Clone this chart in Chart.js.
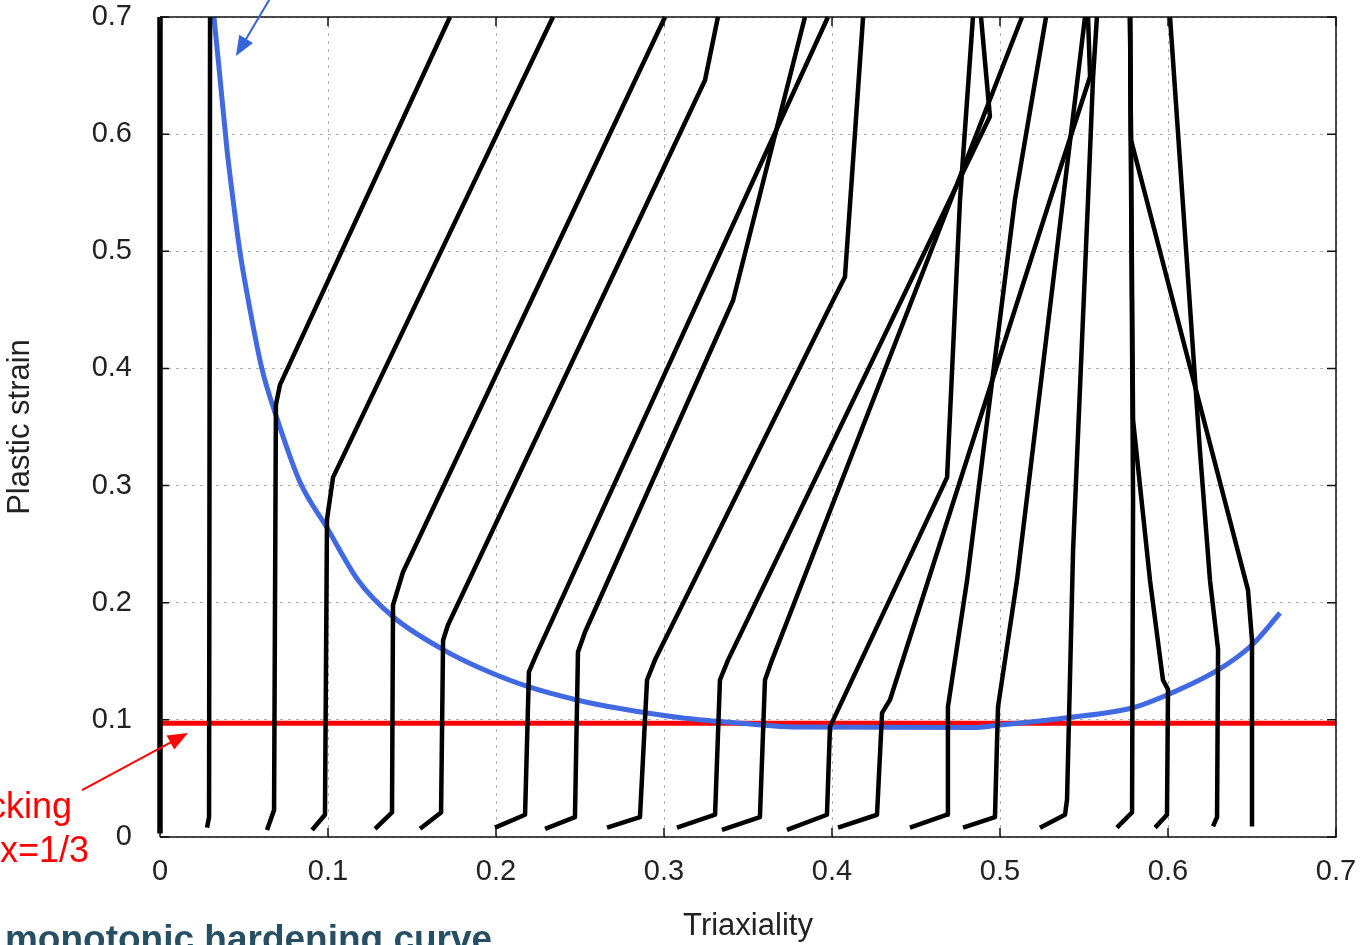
<!DOCTYPE html>
<html><head><meta charset="utf-8">
<script src="https://cdn.jsdelivr.net/npm/chart.js@4"></script>
<style>html,body{margin:0;padding:0;background:#fff;overflow:hidden}</style>
</head><body>
<canvas id="c" width="1362" height="945"></canvas>
<script>
// ---- data ----
const xTickValues = [0, 0.1, 0.2, 0.3, 0.4, 0.5, 0.6, 0.7];
const yTickValues = [0, 0.1, 0.2, 0.3, 0.4, 0.5, 0.6, 0.7];
const xTitle = 'Triaxiality';
const yTitle = 'Plastic strain';

// loading paths [triaxiality, plastic strain]
const path01 = [[0,0.003],[0,0.7]];
const path02 = [[0.028,0.008],[0.0292,0.017],[0.0298,0.7]];
const path03 = [[0.0637,0.006],[0.0679,0.023],[0.069,0.369],[0.0714,0.386],[0.1726,0.7]];
const path04 = [[0.0905,0.006],[0.0982,0.019],[0.0994,0.271],[0.103,0.307],[0.2339,0.7]];
const path05 = [[0.128,0.007],[0.1381,0.021],[0.1387,0.198],[0.1446,0.226],[0.3006,0.7]];
const path06 = [[0.1548,0.007],[0.1673,0.021],[0.1685,0.168],[0.1714,0.181],[0.3244,0.646],[0.3321,0.7]];
const path07 = [[0.1994,0.008],[0.2173,0.019],[0.2196,0.141],[0.2238,0.155],[0.3976,0.7]];
const path08 = [[0.2292,0.007],[0.247,0.017],[0.2488,0.158],[0.253,0.175],[0.3411,0.458],[0.3839,0.7]];
const path09 = [[0.2661,0.008],[0.2857,0.017],[0.2899,0.134],[0.2946,0.151],[0.4006,0.458],[0.4077,0.478],[0.4185,0.7]];
const path10 = [[0.3077,0.008],[0.3304,0.019],[0.3333,0.134],[0.3381,0.151],[0.494,0.615],[0.4887,0.7]];
const path11 = [[0.3345,0.006],[0.3571,0.017],[0.3601,0.134],[0.3643,0.151],[0.5131,0.7]];
const path12 = [[0.3732,0.006],[0.397,0.019],[0.3988,0.094],[0.4685,0.307],[0.4762,0.544],[0.4839,0.7]];
const path13 = [[0.4036,0.008],[0.4268,0.019],[0.4298,0.106],[0.4345,0.117],[0.5298,0.544],[0.5536,0.649],[0.5524,0.7]];
const path14 = [[0.4464,0.008],[0.4685,0.019],[0.469,0.111],[0.4804,0.219],[0.5089,0.544],[0.5274,0.7]];
const path15 = [[0.478,0.008],[0.497,0.017],[0.4988,0.111],[0.5101,0.219],[0.5375,0.544],[0.5506,0.7]];
const path16 = [[0.5238,0.008],[0.5387,0.019],[0.5399,0.032],[0.5435,0.245],[0.5524,0.544],[0.5554,0.649],[0.5577,0.7]];
const path17 = [[0.5696,0.008],[0.5786,0.021],[0.5792,0.288],[0.5774,0.7]];
const path18 = [[0.5923,0.008],[0.5994,0.019],[0.6,0.126],[0.597,0.134],[0.5893,0.219],[0.5792,0.356],[0.5774,0.7]];
const path19 = [[0.6268,0.009],[0.6292,0.017],[0.6298,0.16],[0.625,0.219],[0.619,0.33],[0.6012,0.7]];
const path20 = [[0.65,0.009],[0.65,0.168],[0.6476,0.211],[0.578,0.595],[0.5774,0.7]];

// monotonic hardening curve
const hardeningX = [0.0321,0.0351,0.0399,0.0435,0.0476,0.0536,0.0607,0.069,0.0833,0.0994,0.118,0.1387,0.1685,0.1905,0.2196,0.2482,0.272,0.3113,0.3512,0.3768,0.4839,0.5,0.5179,0.5387,0.5786,0.5994,0.6298,0.65,0.6667];
const hardeningY = [0.700,0.657,0.5865,0.5438,0.4994,0.4499,0.3995,0.360,0.303,0.264,0.219,0.188,0.160,0.1443,0.1281,0.117,0.1101,0.1016,0.0965,0.0939,0.0935,0.0956,0.0982,0.1016,0.1101,0.1212,0.1426,0.1639,0.1912];

// ratcheting threshold line
const thresholdX = [0, 0.7];
const thresholdY = [0.097, 0.097];

// ---- build datasets ----
const paths = [path01,path02,path03,path04,path05,path06,path07,path08,path09,path10,
               path11,path12,path13,path14,path15,path16,path17,path18,path19,path20];
const toPts = arr => arr.map(p => ({x:p[0], y:p[1]}));
const datasets = paths.map((p, i) => ({
  data: toPts(p), showLine: true, borderColor: '#000', borderWidth: i === 0 ? 5.5 : 4.5,
  pointRadius: 0, fill: false, tension: 0, order: 0, borderJoinStyle: 'round',
  clip: false
}));
datasets.push({
  data: hardeningX.map((x,i)=>({x, y: hardeningY[i]})), showLine: true,
  borderColor: '#4169e1', borderWidth: 5, pointRadius: 0,
  cubicInterpolationMode: 'monotone', order: 1
});
datasets.push({
  data: thresholdX.map((x,i)=>({x, y: thresholdY[i]})), showLine: true,
  borderColor: '#ff0000', borderWidth: 5, pointRadius: 0, order: 2
});

const FONT = '"Liberation Sans", Arial, sans-serif';

function arrow(ctx, x1, y1, x2, y2, color, w, len, half) {
  const a = Math.atan2(y2 - y1, x2 - x1);
  ctx.save();
  ctx.strokeStyle = color; ctx.fillStyle = color; ctx.lineWidth = w;
  ctx.beginPath(); ctx.moveTo(x1, y1);
  ctx.lineTo(x2 - Math.cos(a) * len * 0.8, y2 - Math.sin(a) * len * 0.8); ctx.stroke();
  ctx.beginPath(); ctx.moveTo(x2, y2);
  ctx.lineTo(x2 - Math.cos(a) * len - Math.sin(a) * half, y2 - Math.sin(a) * len + Math.cos(a) * half);
  ctx.lineTo(x2 - Math.cos(a) * len + Math.sin(a) * half, y2 - Math.sin(a) * len - Math.cos(a) * half);
  ctx.closePath(); ctx.fill();
  ctx.restore();
}

const decor = {
  id: 'decor',
  beforeDraw(chart) {
    const ctx = chart.ctx;
    ctx.save(); ctx.fillStyle = '#fff'; ctx.fillRect(0, 0, chart.width, chart.height); ctx.restore();
  },
  afterDraw(chart) {
    const ctx = chart.ctx, a = chart.chartArea;
    const xs = chart.scales.x, ys = chart.scales.y;
    ctx.save();
    // frame
    ctx.strokeStyle = '#111'; ctx.lineWidth = 1.5;
    ctx.beginPath();
    ctx.moveTo(a.left, a.top); ctx.lineTo(a.right, a.top); ctx.lineTo(a.right, a.bottom); ctx.lineTo(a.left, a.bottom);
    ctx.stroke();
    // inward ticks
    xTickValues.forEach(v => {
      const px = xs.getPixelForValue(v);
      ctx.beginPath(); ctx.moveTo(px, a.bottom); ctx.lineTo(px, a.bottom - 9);
      ctx.moveTo(px, a.top); ctx.lineTo(px, a.top + 9); ctx.stroke();
    });
    yTickValues.forEach(v => {
      const py = ys.getPixelForValue(v);
      ctx.beginPath(); ctx.moveTo(a.left, py); ctx.lineTo(a.left + 9, py);
      ctx.moveTo(a.right, py); ctx.lineTo(a.right - 9, py); ctx.stroke();
    });
    // annotation arrows
    arrow(ctx, xs.getPixelForValue(0.0685), ys.getPixelForValue(0.7231),
               xs.getPixelForValue(0.0452), ys.getPixelForValue(0.6667), '#3566d6', 2, 20, 8);
    arrow(ctx, xs.getPixelForValue(-0.0464), ys.getPixelForValue(0.0401),
               xs.getPixelForValue(0.0167), ys.getPixelForValue(0.0888), '#ff0000', 2, 20, 8);
    // annotation texts
    ctx.fillStyle = '#ff0000';
    ctx.font = '36px ' + FONT;
    ctx.textBaseline = 'alphabetic';
    ctx.textAlign = 'right';
    ctx.fillText('cking', xs.getPixelForValue(-0.0524), ys.getPixelForValue(0.0162));
    ctx.textAlign = 'left';
    ctx.fillText('x=1/3', xs.getPixelForValue(-0.0952), ys.getPixelForValue(-0.0213));
    ctx.fillStyle = '#264f63';
    ctx.font = 'bold 37px ' + FONT;
    ctx.fillText('monotonic hardening curve', xs.getPixelForValue(-0.0923), ys.getPixelForValue(-0.0974));
    ctx.restore();
  }
};

new Chart(document.getElementById('c'), {
  type: 'scatter',
  data: { datasets },
  options: {
    responsive: false, animation: false, events: [],
    layout: { padding: { top: 17, right: 26, bottom: 0, left: 0 } },
    plugins: { legend: { display: false }, tooltip: { enabled: false } },
    scales: {
      x: {
        type: 'linear', min: 0, max: 0.7,
        afterFit: s => { s.height = 108; s.paddingLeft = 0; s.paddingRight = 0; },
        afterBuildTicks: s => { s.ticks = xTickValues.map(v => ({value: v})); },
        ticks: { padding: 18, color: '#222', font: { family: FONT, size: 29 },
                 callback: v => String(Number(v.toFixed(1))), maxRotation: 0 },
        grid: { color: '#b0b0b0', lineWidth: 1, drawTicks: false },
        border: { display: false, dash: [3, 5] },
        title: { display: true, text: xTitle, color: '#222', font: { family: FONT, size: 31, lineHeight: 1.2 }, padding: 0 }
      },
      y: {
        type: 'linear', min: 0, max: 0.7,
        afterFit: s => { s.width = 160; s.paddingTop = 0; s.paddingBottom = 0; },
        afterBuildTicks: s => { s.ticks = yTickValues.map(v => ({value: v})); },
        ticks: { padding: 28, color: '#222', font: { family: FONT, size: 29 },
                 callback: v => String(Number(v.toFixed(1))) },
        grid: { color: '#b0b0b0', lineWidth: 1, drawTicks: false },
        border: { display: false, dash: [3, 5] },
        title: { display: true, text: yTitle, color: '#222', font: { family: FONT, size: 31, lineHeight: 1.2 }, padding: { top: 2, bottom: 0 } }
      }
    }
  },
  plugins: [decor]
});
</script>
</body></html>
